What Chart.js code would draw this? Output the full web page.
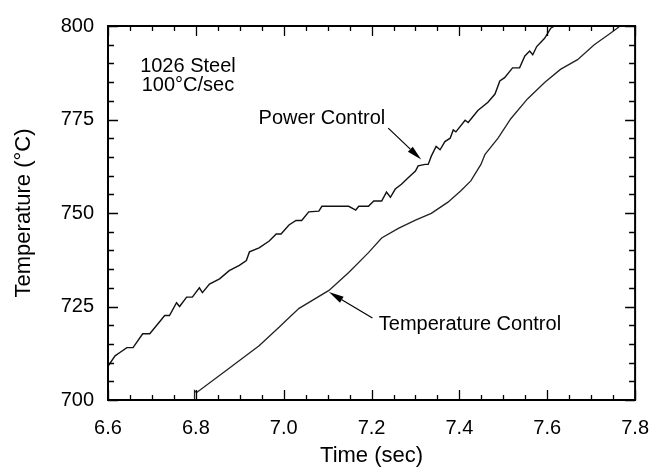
<!DOCTYPE html>
<html><head><meta charset="utf-8">
<script src="https://cdn.jsdelivr.net/npm/chart.js@4"></script>
<style>html,body{margin:0;padding:0;background:#fff}</style>
</head><body>
<canvas id="c" width="665" height="471"></canvas>
<script>
// Power Control series (time in sec, temperature in °C)
const powerTime = [6.600,6.616,6.627,6.643,6.657,6.679,6.695,6.718,6.729,6.740,6.756,6.763,6.779,6.792,6.808,6.815,6.831,6.854,6.876,6.899,6.915,6.922,6.944,6.967,6.983,6.994,7.012,7.028,7.041,7.057,7.080,7.087,7.148,7.164,7.171,7.193,7.205,7.223,7.234,7.243,7.254,7.268,7.284,7.300,7.306,7.322,7.329,7.336,7.347,7.356,7.367,7.379,7.386,7.392,7.413,7.420,7.442,7.465,7.481,7.492,7.503,7.521,7.537,7.549,7.560,7.567,7.576,7.594,7.608,7.617];
const powerTemp = [709,711.8,712.7,714,714,717.7,717.7,721,722.6,722.6,726,725,727.5,727.5,730,728.7,731,732.4,734.6,736,737.3,739.6,740.7,742.5,744.4,744.4,746.8,748,748,750.3,750.5,751.8,751.8,750.8,751.8,751.8,753.2,753.2,755.6,754.2,756.4,757.7,759.5,761.2,762.6,763,763,765.2,767.8,766.9,769.1,770,772.2,771.7,774.8,774.2,777.4,779.6,781.8,785.3,786.2,788.8,788.8,792,793.3,792.3,794.5,796.7,799.4,800];
// Temperature Control series
const tempTime = [6.797,6.797,6.802,6.869,6.944,6.990,7.012,7.035,7.103,7.148,7.193,7.223,7.261,7.300,7.336,7.374,7.404,7.426,7.449,7.458,7.488,7.517,7.555,7.594,7.630,7.669,7.707,7.743,7.766];
const tempTemp = [700,702.5,702,707.9,714.5,719.5,722,724.5,729.3,734.1,739.4,743.3,745.9,748.1,749.9,752.9,756,758.6,763,765.6,770,775.2,780.5,784.9,788.4,791,795,798,800];
// tick labels
const xTickLabels = ['6.6','6.8','7.0','7.2','7.4','7.6','7.8'];
const yTickLabels = ['700','725','750','775','800'];

const FONT = "'Liberation Sans', Arial, Helvetica, sans-serif";
const toXY = (xs, ys) => xs.map((x, i) => ({x, y: ys[i]}));

const annotations = {
  texts: [
    {t: '1026 Steel', x: 6.782, y: 789.2, align: 'center'},
    {t: '100\u00B0C/sec', x: 6.782, y: 784.2, align: 'center'},
    {t: 'Power Control', x: 7.087, y: 775.3, align: 'center'},
    {t: 'Temperature Control', x: 7.424, y: 720.2, align: 'center'}
  ],
  arrows: [
    {x1: 7.238, y1: 772.7, x2: 7.313, y2: 764.3},
    {x1: 7.202, y1: 721.9, x2: 7.103, y2: 728.9}
  ]
};

const decor = {
  id: 'decor',
  afterDraw(chart) {
    const {ctx, chartArea: {left, right, top, bottom}} = chart;
    const xs = chart.scales.x, ys = chart.scales.y;
    ctx.save();
    ctx.strokeStyle = '#000';
    ctx.lineWidth = 1.3;
    ctx.beginPath();
    xs.ticks.forEach(t => {
      const px = Math.round(xs.getPixelForValue(t.value)) + 0.5;
      const L = t.label ? 10 : 5;
      ctx.moveTo(px, bottom); ctx.lineTo(px, bottom - L);
      ctx.moveTo(px, top); ctx.lineTo(px, top + L);
    });
    ys.ticks.forEach(t => {
      const py = Math.round(ys.getPixelForValue(t.value)) + 0.5;
      const L = t.label ? 10 : 6;
      ctx.moveTo(left, py); ctx.lineTo(left + L, py);
      ctx.moveTo(right, py); ctx.lineTo(right - L, py);
    });
    ctx.stroke();
    ctx.lineWidth = 2;
    ctx.strokeRect(left, top, right - left, bottom - top);

    ctx.fillStyle = '#000';
    ctx.font = '20px ' + FONT;
    ctx.textBaseline = 'middle';
    annotations.texts.forEach(a => {
      ctx.textAlign = a.align;
      ctx.fillText(a.t, xs.getPixelForValue(a.x), ys.getPixelForValue(a.y));
    });
    ctx.lineWidth = 1.2;
    annotations.arrows.forEach(a => {
      const x1 = xs.getPixelForValue(a.x1), y1 = ys.getPixelForValue(a.y1);
      const x2 = xs.getPixelForValue(a.x2), y2 = ys.getPixelForValue(a.y2);
      const ang = Math.atan2(y2 - y1, x2 - x1);
      const hl = 15, hw = 3.5;
      const bx = x2 - hl * Math.cos(ang), by = y2 - hl * Math.sin(ang);
      ctx.beginPath(); ctx.moveTo(x1, y1); ctx.lineTo(bx, by); ctx.stroke();
      ctx.beginPath();
      ctx.moveTo(x2, y2);
      ctx.lineTo(bx + hw * Math.sin(ang), by - hw * Math.cos(ang));
      ctx.lineTo(bx - hw * Math.sin(ang), by + hw * Math.cos(ang));
      ctx.closePath(); ctx.fill();
    });
    ctx.restore();
  }
};

new Chart(document.getElementById('c'), {
  type: 'line',
  data: {
    datasets: [
      {label: 'Power Control', data: toXY(powerTime, powerTemp), borderColor: '#111', borderWidth: 1.4, pointRadius: 0, tension: 0, fill: false},
      {label: 'Temperature Control', data: toXY(tempTime, tempTemp), borderColor: '#222', borderWidth: 1.3, pointRadius: 0, tension: 0, fill: false}
    ]
  },
  options: {
    responsive: false,
    animation: false,
    events: [],
    layout: {padding: {top: 19, right: 27, left: 0, bottom: 0}},
    plugins: {legend: {display: false}, tooltip: {enabled: false}},
    scales: {
      x: {
        type: 'linear', min: 6.6, max: 7.8,
        grid: {display: false, drawTicks: false},
        border: {display: false},
        ticks: {
          stepSize: 0.05, autoSkip: false, maxRotation: 0, padding: 16,
          color: '#000', font: {family: FONT, size: 20},
          callback: v => { const s = (Math.round(v * 100) / 100).toFixed(1); return (Math.round(v * 100) % 20 === 0 && xTickLabels.includes(s)) ? s : ''; }
        },
        title: {display: true, text: 'Time (sec)', color: '#000', font: {family: FONT, size: 22}, padding: {bottom: 2, top: 0}},
        afterFit: s => { s.height = 71; }
      },
      y: {
        type: 'linear', min: 700, max: 800,
        grid: {display: false, drawTicks: false},
        border: {display: false},
        ticks: {
          stepSize: 5, autoSkip: false, padding: 14,
          color: '#000', font: {family: FONT, size: 20},
          callback: v => { const s = String(Math.round(v)); return yTickLabels.includes(s) && Math.round(v) % 25 === 0 ? s : ''; }
        },
        title: {display: true, text: 'Temperature (\u00B0C)', color: '#000', font: {family: FONT, size: 22}, padding: {top: 11, bottom: 0}},
        afterFit: s => { s.width = 108; }
      }
    }
  },
  plugins: [decor]
});
</script>
</body></html>
